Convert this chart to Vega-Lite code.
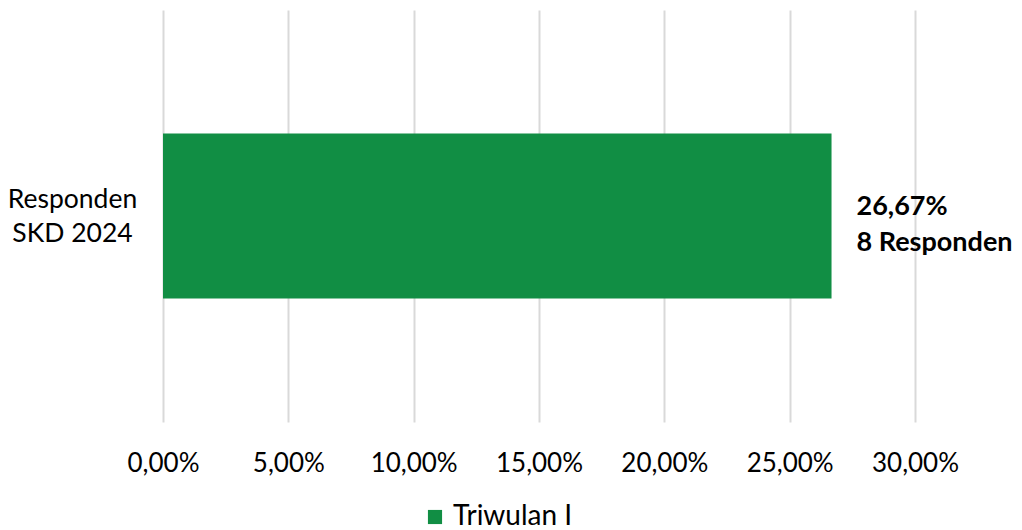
{
  "$schema": "https://vega.github.io/schema/vega-lite/v6.json",
  "autosize": "none",
  "width": 752,
  "height": 412,
  "padding": {"left": 163, "top": 10, "right": 107, "bottom": 108},
  "background": "white",
  "config": {
    "view": {"stroke": null},
    "font": "Lato"
  },
  "data": {
    "values": [
      {"kategori": "Responden|SKD 2024", "persen": 26.67, "seri": "Triwulan I", "label": ["26,67%", "8 Responden"]}
    ]
  },
  "encoding": {
    "y": {
      "field": "kategori",
      "type": "nominal",
      "title": null,
      "scale": {"paddingInner": 0.6, "paddingOuter": 0.3},
      "axis": {
        "domain": false,
        "ticks": false,
        "labelExpr": "split(datum.label, '|')",
        "labelAlign": "center",
        "labelPadding": 91,
        "labelFontSize": 26.5,
        "labelLineHeight": 34,
        "labelOffset": -16,
        "labelColor": "#000000",
        "labelFont": "Lato",
        "labelLimit": 300
      }
    },
    "x": {
      "field": "persen",
      "type": "quantitative",
      "title": null,
      "scale": {"domain": [0, 30], "nice": false},
      "axis": {
        "values": [0, 5, 10, 15, 20, 25, 30],
        "labelExpr": "replace(format(datum.value, '.2f'), '.', ',') + '%'",
        "labelOverlap": false,
        "labelFlush": false,
        "domain": false,
        "ticks": false,
        "grid": true,
        "gridColor": "#d9d9d9",
        "gridWidth": 2,
        "labelPadding": 28,
        "labelFontSize": 26,
        "labelColor": "#000000",
        "labelFont": "Lato"
      }
    }
  },
  "layer": [
    {
      "mark": {"type": "bar", "color": "#118E44"},
      "encoding": {
        "color": {
          "field": "seri",
          "type": "nominal",
          "scale": {"range": ["#118E44"]},
          "legend": {
            "title": null,
            "orient": "none",
            "legendX": 258,
            "legendY": 493,
            "symbolType": "square",
            "symbolSize": 200,
            "symbolStrokeWidth": 0,
            "labelFontSize": 28,
            "labelColor": "#000000",
            "labelFont": "Lato",
            "labelOffset": 4
          }
        }
      }
    },
    {
      "mark": {"type": "text", "align": "left", "baseline": "middle", "dx": 25, "dy": -9, "fontSize": 27, "fontWeight": "bold", "color": "#000000", "lineHeight": 36, "font": "Lato"},
      "encoding": {
        "text": {"field": "label", "type": "nominal"}
      }
    }
  ]
}
